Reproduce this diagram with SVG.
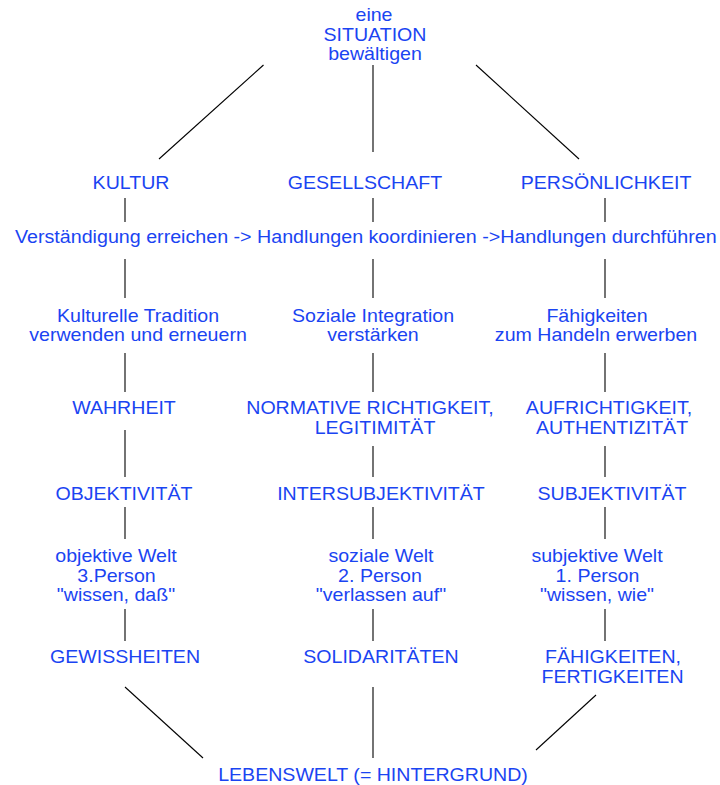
<svg xmlns="http://www.w3.org/2000/svg" width="720" height="785" viewBox="0 0 720 785">
<style>
text{font-family:"Liberation Sans",Arial,sans-serif;font-size:18.3px;fill:#1a44f2;text-anchor:middle}
.c line{stroke:#000;stroke-width:1.1}
</style>
<rect width="720" height="785" fill="#fff"/>
<g class="c" id="connectors">
<line x1="263.5" y1="65" x2="159" y2="159"/>
<line x1="373" y1="65" x2="373" y2="152"/>
<line x1="476" y1="65" x2="579" y2="159"/>
<line x1="125" y1="198" x2="125" y2="222"/>
<line x1="373" y1="198" x2="373" y2="222"/>
<line x1="605" y1="198" x2="605" y2="222"/>
<line x1="125" y1="259" x2="125" y2="298"/>
<line x1="373" y1="259" x2="373" y2="298"/>
<line x1="605" y1="259" x2="605" y2="298"/>
<line x1="125" y1="353" x2="125" y2="392"/>
<line x1="373" y1="353" x2="373" y2="392"/>
<line x1="605" y1="353" x2="605" y2="392"/>
<line x1="125" y1="430" x2="125" y2="477"/>
<line x1="373" y1="446" x2="373" y2="477"/>
<line x1="605" y1="446" x2="605" y2="477"/>
<line x1="125" y1="507" x2="125" y2="539"/>
<line x1="373" y1="507" x2="373" y2="539"/>
<line x1="605" y1="507" x2="605" y2="539"/>
<line x1="125" y1="609" x2="125" y2="641"/>
<line x1="373" y1="609" x2="373" y2="641"/>
<line x1="605" y1="609" x2="605" y2="641"/>
<line x1="125" y1="687" x2="203" y2="758"/>
<line x1="373" y1="687" x2="373" y2="758"/>
<line x1="596" y1="695" x2="536" y2="750"/>
</g>
<g id="situation"><text transform="translate(374,21) scale(1.07,1)">eine</text><text transform="translate(375,41) scale(1.07,1)">SITUATION</text><text transform="translate(375,59.5) scale(1.07,1)">bewältigen</text></g>
<g id="kultur"><text transform="translate(131,189) scale(1.07,1)">KULTUR</text></g>
<g id="gesellschaft"><text transform="translate(365,189) scale(1.07,1)">GESELLSCHAFT</text></g>
<g id="persoenlichkeit"><text transform="translate(606,189) scale(1.07,1)">PERSÖNLICHKEIT</text></g>
<g id="prozesse"><text transform="translate(15,243) scale(1.075,1)" style="text-anchor:start">Verständigung erreichen -&gt; Handlungen koordinieren -&gt;Handlungen durchführen</text></g>
<g id="tradition"><text transform="translate(138,322) scale(1.07,1)">Kulturelle Tradition</text><text transform="translate(138,341) scale(1.07,1)">verwenden und erneuern</text></g>
<g id="integration"><text transform="translate(373,322) scale(1.07,1)">Soziale Integration</text><text transform="translate(373,341) scale(1.07,1)">verstärken</text></g>
<g id="faehigkeiten-erwerben"><text transform="translate(597,322) scale(1.07,1)">Fähigkeiten</text><text transform="translate(596,341) scale(1.07,1)">zum Handeln erwerben</text></g>
<g id="wahrheit"><text transform="translate(124,414) scale(1.07,1)">WAHRHEIT</text></g>
<g id="richtigkeit"><text transform="translate(370,414) scale(1.07,1)">NORMATIVE RICHTIGKEIT,</text><text transform="translate(375,434) scale(1.07,1)">LEGITIMITÄT</text></g>
<g id="aufrichtigkeit"><text transform="translate(609,414) scale(1.07,1)">AUFRICHTIGKEIT,</text><text transform="translate(612,434) scale(1.07,1)">AUTHENTIZITÄT</text></g>
<g id="objektivitaet"><text transform="translate(124,500) scale(1.07,1)">OBJEKTIVITÄT</text></g>
<g id="intersubjektivitaet"><text transform="translate(381,500) scale(1.07,1)">INTERSUBJEKTIVITÄT</text></g>
<g id="subjektivitaet"><text transform="translate(612,500) scale(1.07,1)">SUBJEKTIVITÄT</text></g>
<g id="objektive-welt"><text transform="translate(116,562) scale(1.07,1)">objektive Welt</text><text transform="translate(116.5,581.5) scale(1.07,1)">3.Person</text><text transform="translate(116,601) scale(1.07,1)">"wissen, daß"</text></g>
<g id="soziale-welt"><text transform="translate(381,562) scale(1.07,1)">soziale Welt</text><text transform="translate(380,581.5) scale(1.07,1)">2. Person</text><text transform="translate(381,601) scale(1.07,1)">"verlassen auf"</text></g>
<g id="subjektive-welt"><text transform="translate(597,562) scale(1.07,1)">subjektive Welt</text><text transform="translate(597.5,581.5) scale(1.07,1)">1. Person</text><text transform="translate(597,601) scale(1.07,1)">"wissen, wie"</text></g>
<g id="gewissheiten"><text transform="translate(125,663) scale(1.07,1)">GEWISSHEITEN</text></g>
<g id="solidaritaeten"><text transform="translate(381,663) scale(1.07,1)">SOLIDARITÄTEN</text></g>
<g id="fertigkeiten"><text transform="translate(613,663) scale(1.07,1)">FÄHIGKEITEN,</text><text transform="translate(612.5,683) scale(1.07,1)">FERTIGKEITEN</text></g>
<g id="lebenswelt"><text transform="translate(373,781) scale(1.07,1)">LEBENSWELT (= HINTERGRUND)</text></g>
</svg>
